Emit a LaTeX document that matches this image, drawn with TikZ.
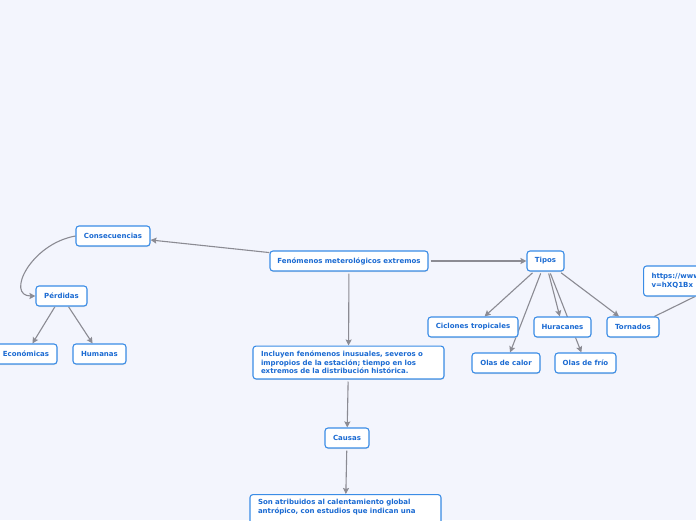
\documentclass[tikz,border=0pt]{standalone}
\usepackage{fontspec}
\setmainfont{DejaVu Sans}
\usepackage{tikz}
\usetikzlibrary{arrows.meta,shadows,backgrounds}
\definecolor{bgc}{HTML}{F3F5FD}
\definecolor{edgec}{HTML}{3A8CE6}
\definecolor{txtc}{HTML}{1A6AD2}
\definecolor{linkc}{HTML}{8B8B93}
\tikzset{
  box/.style={draw=edgec, rounded corners=3pt, fill=white, line width=1.1pt,
              text=txtc, font=\fontsize{7}{8.6}\selectfont\bfseries,
              minimum height=20pt, inner xsep=4pt, inner ysep=3pt,
              drop shadow={shadow xshift=0.4pt, shadow yshift=-1pt, fill=black!18, opacity=0.6}},
  tbox/.style={box, align=left, inner xsep=8pt, inner ysep=5pt},
  arr/.style={-{Stealth[length=6pt, width=6pt, inset=1pt]}, draw=linkc, line width=1.1pt},
  lnk/.style={draw=linkc, line width=1.1pt},
}
\begin{document}
\begin{tikzpicture}[x=1pt, y=-1pt]
  \useasboundingbox (0,0) rectangle (696,520);
  \clip (0,0) rectangle (696,520);

  % main topic
  \node[box, minimum width=158pt] (fen) at (349,261) {Fenómenos meterológicos extremos};

  % consequences
  \node[box, minimum width=74pt] (cons) at (113,236) {Consecuencias};
  \node[box, minimum width=51pt] (perd) at (61.5,296) {Pérdidas};
  \node[box, minimum width=62pt] (econ) at (26,354) {Económicas};
  \node[box, minimum width=53pt] (hum) at (99.5,354) {Humanas};

  % description and causes
  \node[tbox, text width=175pt] (incl) at (348.5,362.5)
    {Incluyen fenómenos inusuales, severos o\\impropios de la estación; tiempo en los\\extremos de la distribución histórica.};
  \node[box, minimum width=44pt] (caus) at (347,438) {Causas};
  \node[tbox, text width=175pt, anchor=north] (son) at (345.5,494)
    {Son atribuidos al calentamiento global\\antrópico, con estudios que indican una\\\phantom{x}};

  % types
  \node[box, minimum width=37pt] (tipos) at (545.5,261) {Tipos};
  \node[box, minimum width=90pt] (cicl) at (473,327) {Ciclones tropicales};
  \node[box, minimum width=57pt] (hur) at (562.5,327) {Huracanes};
  \node[box, minimum width=52pt] (torn) at (633,327) {Tornados};
  \node[box, minimum width=68pt] (calor) at (506,363) {Olas de calor};
  \node[box, minimum width=61pt] (frio) at (585.5,363) {Olas de frío};
  \node[tbox, text width=150pt, anchor=west, minimum height=30pt] (url) at (643,281)
    {https://www\\v=hXQ1Bx};

  % connectors, behind the boxes
  \begin{scope}[on background layer]
    \fill[bgc] (0,0) rectangle (696,520);
    \draw[arr] (fen) -- (cons);
    \draw[arr] (cons.west) .. controls +(-45,8) and +(-30,0) .. (perd.west);
    \draw[arr] (perd) -- (econ);
    \draw[arr] (perd) -- (hum);
    \draw[arr, shorten <=2pt] (fen) -- (tipos);
    \draw[arr, shorten <=2pt] (fen) -- (incl);
    \draw[arr, shorten <=2pt] (incl) -- (caus);
    \draw[arr, shorten <=2pt] (caus) -- (son);
    \foreach \t in {cicl,calor,hur,frio,torn} \draw[arr, shorten <=2pt] (tipos) -- (\t);
    \draw[lnk] (torn) -- (url);
  \end{scope}
\end{tikzpicture}
\end{document}
